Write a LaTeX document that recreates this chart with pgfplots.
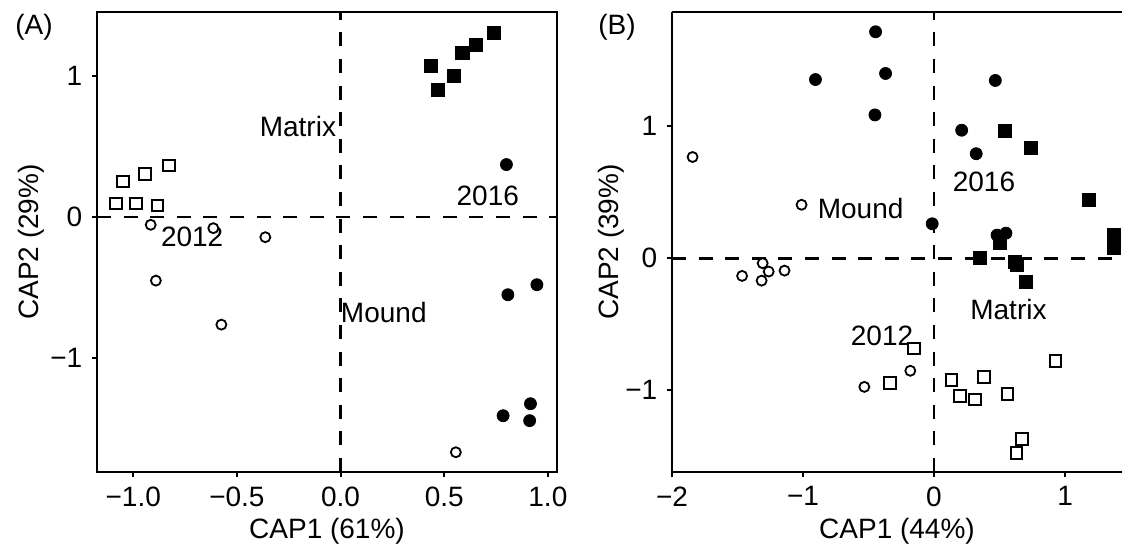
\documentclass[border=0pt]{standalone}
\usepackage{fontspec}
\setmainfont{Liberation Sans}
\usepackage{pgfplots}
\pgfplotsset{compat=1.18}
\pgfplotsset{
  cap/.style={
    scale only axis, anchor=south west,
    axis line style={line width=1.1pt, black},
    tick align=outside, major tick length=2.5pt,
    tick style={line width=1pt, black},
    xtick pos=bottom, ytick pos=left,
    xlabel style={anchor=center},
    ylabel style={anchor=center},
  },
  fsq/.style={only marks, mark=square*, mark size=3.3pt, mark options={fill=black, draw=black}},
  fci/.style={only marks, mark=*, mark size=3.0pt, mark options={fill=black, draw=black}},
  osq/.style={only marks, mark=square*, mark size=2.9pt, mark options={fill=white, draw=black, line width=1pt}},
  oci/.style={only marks, mark=*, mark size=2.5pt, mark options={fill=white, draw=black, line width=0.9pt}},
  zl/.style={line width=1.3pt, black, dash pattern=on 7pt off 6.3pt},
}
\begin{document}
\fontsize{14}{16}\selectfont
\begin{tikzpicture}
\useasboundingbox (0,0) rectangle (561pt,274.5pt);
\node at (17pt,261pt) {(A)};
\node at (308.5pt,261pt) {(B)};
% Panel A
\begin{axis}[cap, at={(48.5pt,38.5pt)}, width=230pt, height=230pt,
  xmin=-1.175, xmax=1.044, ymin=-1.807, ymax=1.455,
  xtick={-1,-0.5,0,0.5,1}, xticklabels={−1.0,−0.5,0.0,0.5,1.0},
  ytick={-1,0,1}, yticklabels={−1,0,1},
  xlabel={CAP1 (61\%)}, ylabel={CAP2 (29\%)},
  xlabel style={at={(axis description cs:0.5,-0.128)}},
  ylabel style={at={(axis description cs:-0.143,0.5)}},
]
\addplot[zl] coordinates {(0,-1.807) (0,1.455)};
\addplot[zl] coordinates {(-1.175,0) (1.044,0)};
\addplot[fsq] coordinates {(0.435,1.073) (0.47,0.90) (0.547,1.0) (0.588,1.165) (0.653,1.224) (0.74,1.309)};
\addplot[fci] coordinates {(0.80,0.373) (0.807,-0.55) (0.947,-0.479) (0.916,-1.323) (0.784,-1.408) (0.912,-1.443)};
\addplot[osq] coordinates {(-1.082,0.097) (-0.988,0.097) (-0.884,0.083) (-1.051,0.252) (-0.944,0.307) (-0.828,0.366)};
\addplot[oci] coordinates {(-0.916,-0.054) (-0.614,-0.078) (-0.363,-0.142) (-0.891,-0.45) (-0.575,-0.762) (0.556,-1.667)};
\node[anchor=east, inner sep=0pt] at (axis cs:-0.02,0.646) {Matrix};
\node at (axis cs:0.71,0.15) {2016};
\node at (axis cs:-0.716,-0.14) {2012};
\node[anchor=west, inner sep=0pt] at (axis cs:0.0,-0.675) {Mound};
\end{axis}
% Panel B
\begin{axis}[cap, at={(336pt,38.5pt)}, width=225pt, height=230pt,
  axis x line*=bottom, axis y line*=left,
  xmin=-2, xmax=1.435, ymin=-1.62, ymax=1.866,
  xtick={-2,-1,0,1}, xticklabels={−2,−1,0,1},
  ytick={-1,0,1}, yticklabels={−1,0,1},
  xlabel={CAP1 (44\%)}, ylabel={CAP2 (39\%)},
  xlabel style={at={(axis description cs:0.5,-0.128)}},
  ylabel style={at={(axis description cs:-0.136,0.5)}},
]
\draw[line width=1.1pt] (rel axis cs:0,1) -- (rel axis cs:1,1);
\addplot[zl] coordinates {(0,-1.62) (0,1.866)};
\addplot[zl] coordinates {(-2,0) (1.435,0)};
\addplot[fci] coordinates {(-0.446,1.716) (-0.905,1.354) (-0.37,1.40) (-0.451,1.086) (0.468,1.347) (0.211,0.97) (0.322,0.792) (-0.014,0.261) (0.481,0.175) (0.549,0.19)};
\addplot[fsq] coordinates {(0.54,0.962) (0.738,0.835) (1.184,0.443) (1.373,0.177) (1.373,0.076) (0.503,0.119) (0.351,0.0) (0.62,-0.025) (0.635,-0.05) (0.703,-0.182)};
\addplot[oci] coordinates {(-1.843,0.767) (-1.011,0.405) (-1.308,-0.038) (-1.465,-0.134) (-1.316,-0.170) (-1.262,-0.101) (-1.141,-0.094) (-0.181,-0.853) (-0.532,-0.975)};
\addplot[osq] coordinates {(-0.154,-0.684) (-0.338,-0.944) (0.132,-0.924) (0.381,-0.899) (0.197,-1.046) (0.311,-1.071) (0.562,-1.03) (0.927,-0.78) (0.67,-1.372) (0.63,-1.476)};
\node at (axis cs:-0.56,0.38) {Mound};
\node at (axis cs:0.381,0.575) {2016};
\node at (axis cs:0.568,-0.392) {Matrix};
\node at (axis cs:-0.397,-0.59) {2012};
\end{axis}
\end{tikzpicture}
\end{document}
